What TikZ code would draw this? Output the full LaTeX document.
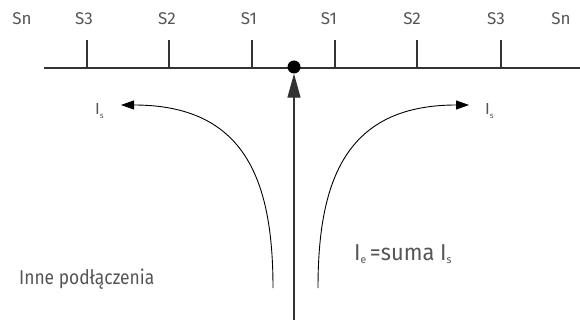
\documentclass[tikz,border=0pt]{standalone}
\usepackage{fontspec}
\setmainfont{Fira Sans}
\usetikzlibrary{arrows.meta}
\definecolor{txt}{HTML}{555555}
\definecolor{ln}{HTML}{333333}
\tikzset{
  lab/.style={text=txt,font=\fontsize{17}{17}\selectfont,inner sep=0pt,anchor=base},
  big/.style={text=txt,font=\fontsize{20}{20}\selectfont,inner sep=0pt,anchor=base west},
  tick/.style={draw=ln,line width=1.3pt},
  flow/.style={draw=black,line width=0.9pt,-{Triangle[length=13pt,width=9pt]}},
}
\begin{document}
\begin{tikzpicture}[x=1pt,y=-1pt]
\useasboundingbox (0,0) rectangle (580,320);
% axis
\coordinate (L) at (44,68);
\coordinate (R) at (580,68);
\draw[tick] (L) -- (R);
\foreach \x in {87,169,252,335,417,501}{\draw[tick] (\x,40) -- (\x,68);}
% labels
\node[lab] (snL) at (22,25) {Sn};
\node[lab] (s3L) at (84,25) {S3};
\node[lab] (s2L) at (167,25) {S2};
\node[lab] (s1L) at (249,25) {S1};
\node[lab] (s1R) at (329,25) {S1};
\node[lab] (s2R) at (412,25) {S2};
\node[lab] (s3R) at (496,25) {S3};
\node[lab] (snR) at (561,25) {Sn};
% dot
\node[circle,fill=black,inner sep=0pt,minimum size=13pt] (dot) at (294,67) {};
\coordinate (in) at (294,320);
\draw[line width=1.3pt,draw=ln,-{Triangle[length=24pt,width=13pt]}] (in) -- (dot.south);
% curves
\coordinate (lb) at (273,288);
\coordinate (lt) at (121,105);
\coordinate (rb) at (318,288);
\coordinate (rt) at (469,105);
\draw[flow] (lb) .. controls (273,180) and (245,105) .. (lt);
\draw[flow] (rb) .. controls (318,180) and (346,105) .. (rt);
% Is labels
\node[lab,anchor=base west,font=\fontsize{16}{16}\selectfont] (isL) at (95,115) {I\raisebox{-4pt}{\fontsize{8}{8}\selectfont s}};
\node[lab,anchor=base west,font=\fontsize{16}{16}\selectfont] (isR) at (485,115) {I\raisebox{-4pt}{\fontsize{8}{8}\selectfont s}};
% texts
\node[big,font=\fontsize{23}{23}\selectfont] (ie) at (354,260) {\scalebox{0.95}[1]{I\raisebox{-3pt}{\fontsize{11}{11}\selectfont e}\,=suma I\raisebox{-3pt}{\fontsize{11}{11}\selectfont s}}};
\node[big] (inne) at (19,284) {\scalebox{0.87}[1]{Inne podłączenia}};
\end{tikzpicture}
\end{document}
